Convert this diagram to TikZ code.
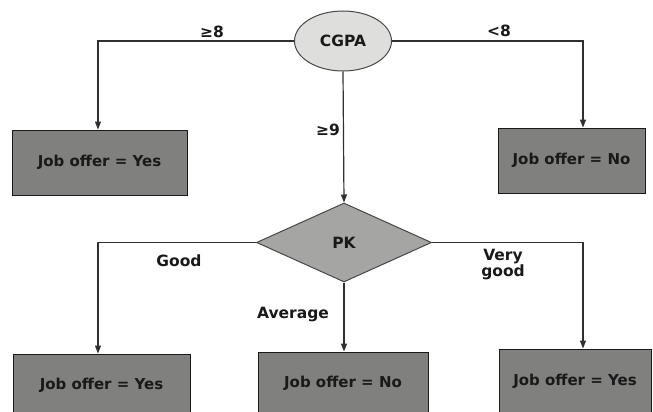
\documentclass[tikz,border=0pt]{standalone}
\usepackage{fontspec}
\setmainfont{DejaVu Sans}
\usetikzlibrary{shapes.geometric,arrows.meta}
\definecolor{boxgrey}{RGB}{128,128,126}
\definecolor{diagrey}{RGB}{165,165,163}
\definecolor{ovalgrey}{RGB}{222,222,220}
\definecolor{ink}{RGB}{25,25,25}
\begin{document}
\begin{tikzpicture}[x=1pt,y=-1pt,
  txt/.style={font=\fontsize{15}{17}\selectfont\bfseries, text=ink},
  bigtxt/.style={font=\fontsize{15.5}{17}\selectfont\bfseries, text=ink},
  outcome/.style={txt, draw=ink, line width=1pt, fill=boxgrey, inner sep=0pt},
  rootnode/.style={bigtxt, ellipse, draw=ink!80, line width=1pt, fill=ovalgrey,
    minimum width=97, minimum height=60, inner sep=0pt},
  decision/.style={bigtxt, diamond, draw=ink!80, line width=1pt, fill=diagrey,
    minimum width=175, minimum height=79, inner sep=0pt, aspect=2.2},
  link/.style={draw=ink!90, line width=1.2pt},
  arrow/.style={link, -{Triangle[length=8pt,width=6pt]}},
  branch/.style={bigtxt}]
  % page frame
  \useasboundingbox (0,0) rectangle (653,412);

  % root and decision nodes
  \node[rootnode] (cgpa) at (343,41) {CGPA};
  \node[decision] (pk) at (344,242.5) {PK};

  % leaf outcomes
  \node[outcome, minimum width=175, minimum height=65] (yesA) at (99.5,162.5) {Job offer = Yes};
  \node[outcome, minimum width=147, minimum height=65] (noA) at (571.5,160.5) {Job offer = No};
  \node[outcome, minimum width=177, minimum height=62] (yesB) at (101.5,385) {Job offer = Yes};
  \node[outcome, minimum width=170, minimum height=62] (noB) at (343,383) {Job offer = No};
  \node[outcome, minimum width=152, minimum height=64] (yesC) at (575,381) {Job offer = Yes};

  % connectors from the root
  \draw[arrow] (cgpa.west) -| ([xshift=-1.5]yesA.north);
  \draw[arrow] (cgpa.east) -| ([xshift=11.5]noA.north);
  \draw[arrow] (cgpa.south) -- (pk.north);

  % connectors from the decision
  \draw[arrow] (pk.west) -| ([xshift=-3.5]yesB.north);
  \draw[arrow] (pk.south) -- (pk.south |- noB.north);
  \draw[arrow] (pk.east) -| ([xshift=8]yesC.north);

  % branch labels
  \node[branch] (lge8) at (212,32) {≥8};
  \node[branch] (llt8) at (499,31) {<8};
  \node[branch] (lge9) at (328,130) {≥9};
  \node[branch] (lgood) at (179,261) {Good};
  \node[branch, align=center] (lvgood) at (503,265) {Very\\[-1pt]good};
  \node[branch] (lavg) at (293,315) {Average};
\end{tikzpicture}
\end{document}
